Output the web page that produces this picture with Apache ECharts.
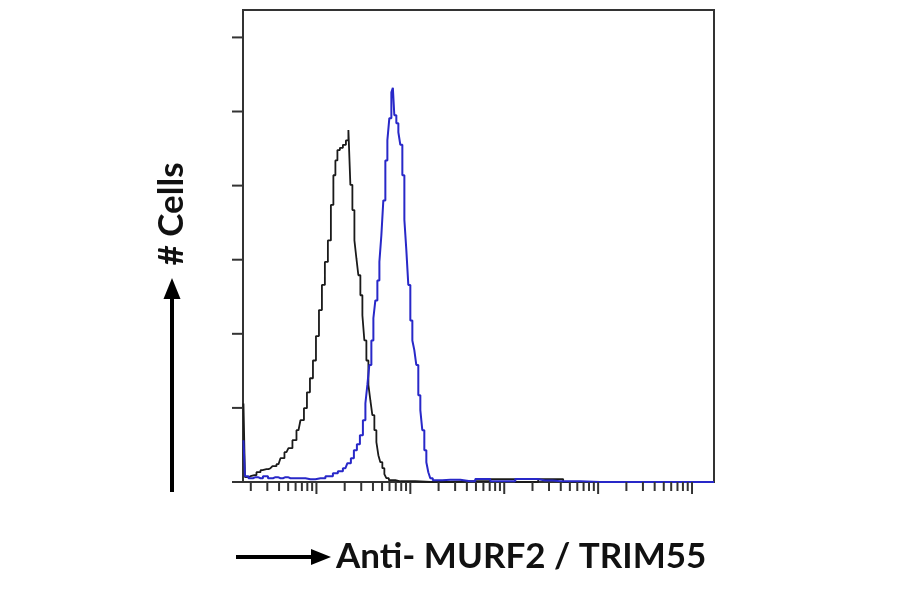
<!DOCTYPE html>
<html>
<head>
<meta charset="utf-8">
<script src="https://cdn.jsdelivr.net/npm/echarts@6/dist/echarts.min.js"></script>
<style>
html,body{margin:0;padding:0;background:#fff;}
#chart{width:900px;height:594px;}
</style>
</head>
<body>
<div id="chart"></div>
<script>
// Histogram data: x in log10(fluorescence intensity), y in cell counts
const blackX = [0.223,0.255,0.298,0.340,0.383,0.426,0.468,0.511,0.553,0.596,0.638,0.681,0.723,0.766,0.809,0.851,0.883,0.915,0.947,0.979,1.011,1.043,1.074,1.106,1.138,1.170,1.191,1.213,1.234,1.266,1.298,1.330,1.351,1.372,1.394,1.415,1.436,1.457,1.479,1.500,1.521,1.543,1.564,1.585,1.606,1.628,1.649,1.670,1.691,1.713,1.734,1.755,1.787,1.894,2.213,2.638,3.064,3.170,3.553,3.702,4.234,5.234];
const blackY = [10.6,0.65,0.78,0.92,1.32,1.59,1.73,1.86,2.13,2.40,3.21,4.02,4.56,5.64,6.99,8.34,9.96,12.1,14.0,16.4,19.7,23.2,26.6,29.7,32.6,37.4,41.4,43.4,44.8,45.1,45.5,46.1,47.5,40.1,36.7,32.6,30.2,27.9,25.2,22.5,19.1,16.4,13.1,11.0,9.02,6.99,5.37,3.62,2.67,1.86,1.05,0.51,0.24,0.1,0,0.1,0.4,0,0.4,0,0,0];
const blueX = [0.223,0.255,0.298,0.351,0.404,0.457,0.511,0.564,0.617,0.670,0.723,0.830,0.936,1.043,1.149,1.202,1.255,1.309,1.351,1.383,1.415,1.447,1.479,1.511,1.532,1.553,1.574,1.596,1.617,1.638,1.660,1.681,1.702,1.723,1.745,1.766,1.787,1.809,1.819,1.840,1.862,1.883,1.904,1.926,1.947,1.968,1.989,2.011,2.032,2.053,2.074,2.096,2.117,2.138,2.160,2.181,2.202,2.223,2.255,2.426,2.638,2.745,2.957,3.277,3.436,3.596,4.021,5.234];
const blueY = [5.64,0.78,0.51,0.65,0.51,0.78,0.51,0.65,0.51,0.65,0.51,0.51,0.38,0.51,0.78,1.19,1.46,1.86,2.54,3.21,4.29,5.10,6.31,8.34,10.6,13.1,15.8,19.1,22.1,24.5,27.2,29.7,33.3,38.0,43.4,46.1,49.1,52.6,53.2,49.5,48.4,47.2,45.5,41.4,35.4,31.3,26.6,21.8,19.1,17.8,15.8,11.7,9.69,6.99,4.29,2.67,1.32,0.51,0.24,0.3,0.1,0.4,0.1,0.4,0.2,0.1,0,0];

// Axis ticks (intensity values on the log axis, counts on the y axis)
const minorTickValues = [2,3,4,5,6,7,8,9,20,30,40,50,60,70,80,90,200,300,400,500,600,700,800,900,2000,3000,4000,5000,6000,7000,8000,9000,20000,30000,40000,50000,60000,70000,80000,90000];
const majorTickValues = [10,100,1000,10000,100000];
const yTickValues = [0,10,20,30,40,50,60];

const X_MIN = 0.218, X_MAX = 5.234, Y_MAX = 63.7;

const pairs = (xs, ys) => xs.map((x, i) => [x, ys[i]]);
const xTickData = minorTickValues.map(v => [Math.log10(v), 0])
  .concat(majorTickValues.map(v => [Math.log10(v), 1]));
const yTickData = yTickValues.map(v => [X_MIN, v]);

const AX = '#333';
const chart = echarts.init(document.getElementById('chart'), null, {renderer: 'canvas'});
chart.setOption({
  animation: false,
  backgroundColor: '#fff',
  grid: {left: 243, right: 186, top: 10, bottom: 112, show: true, borderColor: AX, borderWidth: 2, backgroundColor: '#fff'},
  xAxis: {
    type: 'value', min: X_MIN, max: X_MAX,
    axisLine: {show: true, lineStyle: {color: AX, width: 2}},
    axisTick: {show: false}, axisLabel: {show: false}, splitLine: {show: false}
  },
  yAxis: {
    type: 'value', min: 0, max: Y_MAX, interval: 10,
    axisLine: {show: true, lineStyle: {color: AX, width: 2}},
    axisTick: {show: false}, axisLabel: {show: false}, splitLine: {show: false}
  },
  series: [
    {
      type: 'line', data: pairs(blackX, blackY), step: 'middle', showSymbol: false,
      lineStyle: {color: '#1a1a1a', width: 1.8}, z: 3
    },
    {
      type: 'line', data: pairs(blueX, blueY), step: 'middle', showSymbol: false,
      lineStyle: {color: '#2828c8', width: 2}, z: 4
    },
    {
      type: 'custom', data: xTickData, clip: false, silent: true, z: 5,
      renderItem: function (params, api) {
        const p = api.coord([api.value(0), 0]);
        const len = api.value(1) ? 12 : 9;
        return {type: 'line', shape: {x1: p[0], y1: p[1], x2: p[0], y2: p[1] + len},
                style: {stroke: AX, lineWidth: 2}};
      }
    },
    {
      type: 'custom', data: yTickData, clip: false, silent: true, z: 5,
      renderItem: function (params, api) {
        const p = api.coord([api.value(0), api.value(1)]);
        return {type: 'line', shape: {x1: p[0] - 11, y1: p[1], x2: p[0], y2: p[1]},
                style: {stroke: AX, lineWidth: 2}};
      }
    }
  ],
  graphic: [
    {type: 'line', shape: {x1: 172, y1: 492, x2: 172, y2: 296}, style: {stroke: '#000', lineWidth: 4}},
    {type: 'polygon', shape: {points: [[172, 278], [163.5, 299], [180.5, 299]]}, style: {fill: '#000'}},
    {type: 'text', x: 172, y: 214, rotation: Math.PI / 2,
     style: {text: '# Cells', font: 'bold 35px Lato', fill: '#111', align: 'center', verticalAlign: 'middle'}},
    {type: 'line', shape: {x1: 236, y1: 557, x2: 314, y2: 557}, style: {stroke: '#000', lineWidth: 4}},
    {type: 'polygon', shape: {points: [[331, 557], [311, 549], [311, 565]]}, style: {fill: '#000'}},
    {type: 'text', x: 336, y: 557,
     style: {text: 'Anti- MURF2 / TRIM55', font: 'bold 35px Lato', fill: '#111', align: 'left', verticalAlign: 'middle'}}
  ]
});
</script>
</body>
</html>
